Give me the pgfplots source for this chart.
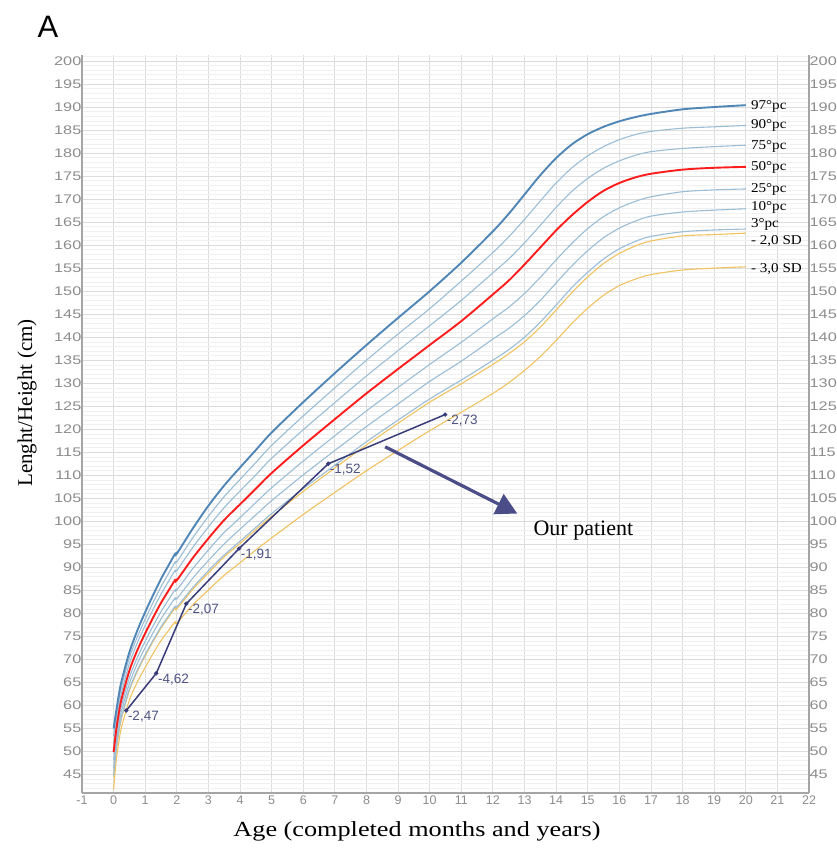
\documentclass[border=0pt]{standalone}
\usepackage{fontspec}
\setmainfont{Liberation Serif}
\newfontfamily\sans{Liberation Sans}
\usepackage{pgfplots}
\pgfplotsset{compat=1.18}
\usepackage{pgfplotstable}
\usetikzlibrary{arrows.meta}

\definecolor{c97}{RGB}{79,134,181}
\definecolor{cpc}{RGB}{155,189,214}
\definecolor{c50}{RGB}{255,28,28}
\definecolor{csd}{RGB}{240,194,96}
\definecolor{cpat}{RGB}{56,60,120}
\definecolor{cpatlab}{RGB}{78,82,132}
\definecolor{carrow}{RGB}{74,77,135}
\definecolor{gridc}{RGB}{220,220,220}
\definecolor{gridm}{RGB}{240,240,240}
\definecolor{axisc}{RGB}{165,165,165}
\definecolor{tickc}{RGB}{140,140,140}

% percentile curves, boys length/height (cm) by age (years)
\pgfplotstableread{
age   p97   p90   p75   p50   p25   p10   p3    m2    m3
0     55.0  53.4  51.7  49.9  48.1  46.4  44.8  44.5  41.8
0.083 58.8  57.5  56.2  54.7  53.2  51.9  50.6  50.3  48.1
0.167 62.4  61.1  59.8  58.4  57.0  55.7  54.5  54.2  52.1
0.25  65.3  64.0  62.8  61.4  60.0  58.8  57.5  57.3  55.3
0.5   71.6  70.4  69.1  67.6  66.1  64.8  63.6  63.3  61.2
0.75  76.3  74.9  73.6  72.0  70.4  69.1  67.7  67.4  65.1
1     80.3  78.8  77.4  75.7  74.0  72.6  71.1  70.8  68.3
1.25  84.0  82.4  80.9  79.1  77.3  75.8  74.2  73.9  71.3
1.5   87.5  85.8  84.2  82.3  80.4  78.8  77.1  76.8  74.1
1.75  90.6  88.8  87.1  85.1  83.1  81.4  79.6  79.3  76.4
1.95  93.0  91.2  89.4  87.3  85.2  83.4  81.6  81.2  78.2
2.0   93.0  91.2  89.3  87.2  85.1  83.2  81.4  81.0  77.9
2.5   98.4  96.4  94.3  92.0  89.7  87.6  85.6  85.2  81.8
3     103.4 101.1 98.8  96.3  93.8  91.5  89.3  88.8  85.1
3.5   107.8 105.4 103.0 100.3 97.6  95.1  92.7  92.3  88.3
4     111.7 109.1 106.6 103.7 100.8 98.3  95.7  95.2  91.0
4.5   115.5 112.8 110.1 107.1 104.1 101.4 98.7  98.2  93.8
5     119.3 116.5 113.7 110.5 107.3 104.5 101.7 101.1 96.4
6     125.9 122.9 119.9 116.5 113.1 110.1 107.1 106.5 101.5
7     132.2 129.0 125.8 122.2 118.6 115.4 112.2 111.6 106.3
8     138.3 135.0 131.6 127.8 124.0 120.6 117.3 116.6 111.0
9     144.2 140.7 137.1 133.1 129.1 125.5 122.0 121.3 115.4
10    150.0 146.2 142.5 138.3 134.1 130.4 126.6 125.9 119.7
11    156.2 152.2 148.0 143.5 138.9 134.8 130.7 129.9 123.7
12    163.0 158.4 154.0 149.3 144.0 139.6 135.0 134.1 127.8
12.5  166.8 161.8 157.0 152.3 146.5 141.9 137.3 136.4 130.1
13    171.0 165.6 160.5 155.8 149.5 144.7 140.0 139.0 132.8
13.5  175.2 169.6 164.3 159.5 153.0 148.0 143.3 142.2 135.8
14    178.9 173.5 168.2 163.2 156.8 151.8 147.0 145.9 139.3
14.5  181.9 176.8 171.7 166.5 160.4 155.5 150.8 149.7 143.0
15    184.1 179.4 174.5 169.4 163.6 158.8 154.1 153.1 146.3
15.5  185.7 181.4 176.7 171.8 166.2 161.6 157.0 156.0 149.1
16    186.9 182.9 178.3 173.5 168.1 163.7 159.2 158.2 151.2
16.5  187.8 184.0 179.5 174.7 169.5 165.2 160.8 159.8 152.6
17    188.5 184.7 180.3 175.5 170.5 166.3 161.9 160.9 153.6
18    189.5 185.4 181.0 176.4 171.6 167.2 162.9 162.0 154.6
19    190.0 185.7 181.4 176.8 172.0 167.6 163.3 162.3 155.0
20    190.4 186.0 181.7 177.0 172.2 167.9 163.5 162.6 155.3
}\growth

\pgfplotsset{
  gc/.style={
    at={(82pt,56pt)}, anchor=south west,
    scale only axis, width=727pt, height=738pt,
    xmin=-1, xmax=22, ymin=41, ymax=201.3,
    ytick={45,50,...,200},
    major tick length=0pt, minor tick length=0pt,
    axis line style={draw=axisc, line width=1.6pt},
    /pgf/number format/assume math mode=true,
    tick label style={font=\sans\fontsize{12.5}{12.5}\selectfont, text=tickc},
  }
}

\begin{document}
\begin{tikzpicture}
\path[use as bounding box] (0,0) rectangle (836pt,849pt);

\begin{axis}[gc,
  xtick={-1,0,...,22},
  minor ytick={42,43,...,201},
  grid=both,
  major grid style={draw=gridc, line width=0.9pt},
  minor grid style={draw=gridm, line width=0.6pt},
  axis x line*=bottom, axis y line*=left,
  xticklabel style={yshift=1pt},
  yticklabel style={xscale=1.3, xshift=3pt},
  every node near coord/.append style={anchor=west, font=\sans\fontsize{13.5}{13.5}\selectfont,
    text=cpatlab, xshift=0pt, yshift=-6pt, inner sep=1pt},
]
\addplot[csd, line width=1.1pt, smooth] table[x=age,y=m3]{\growth};
\addplot[csd, line width=1.1pt, smooth] table[x=age,y=m2]{\growth};
\addplot[cpc, line width=1.1pt, smooth] table[x=age,y=p3]{\growth};
\addplot[cpc, line width=1.1pt, smooth] table[x=age,y=p10]{\growth};
\addplot[cpc, line width=1.1pt, smooth] table[x=age,y=p25]{\growth};
\addplot[cpc, line width=1.1pt, smooth] table[x=age,y=p75]{\growth};
\addplot[cpc, line width=1.1pt, smooth] table[x=age,y=p90]{\growth};
\addplot[c50, line width=1.9pt, smooth] table[x=age,y=p50]{\growth};
\addplot[c97, line width=1.9pt, smooth] table[x=age,y=p97]{\growth};

% patient
\addplot[cpat, line width=1.5pt, mark=*, mark size=1.3pt,
  nodes near coords, point meta=explicit symbolic]
  table[meta=lab]{
age   h     lab
0.40  58.9  -2,47
1.35  67.0  -4,62
2.30  82.1  -2,07
3.97  94.1  -1,91
6.79  112.5 -1,52
10.49 123.2 -2,73
};

\draw[carrow, line width=3.2pt, -{Triangle[length=21pt,width=22pt]}]
  (axis cs:8.59,116.2) -- (axis cs:12.77,101.7);
\node[anchor=west, font=\fontsize{22}{22}\selectfont, inner sep=0pt] at (axis cs:13.28,98.0) {Our patient};

\begin{scope}[every node/.style={anchor=west, inner sep=0pt, xscale=1.12, font=\fontsize{13.5}{13.5}\selectfont}]
\node at (axis cs:20.16,190.2) {97°pc};
\node at (axis cs:20.16,185.9) {90°pc};
\node at (axis cs:20.16,181.5) {75°pc};
\node at (axis cs:20.16,176.8) {50°pc};
\node at (axis cs:20.16,172.0) {25°pc};
\node at (axis cs:20.16,168.1) {10°pc};
\node at (axis cs:20.16,164.6) {3°pc};
\node at (axis cs:20.16,160.9) {- 2,0 SD};
\node at (axis cs:20.16,154.8) {- 3,0 SD};
\end{scope}
\end{axis}

\begin{axis}[gc,
  axis x line=none, axis y line*=right,
  yticklabel style={xscale=1.3, xshift=-3pt},
]
\end{axis}

\node[font=\fontsize{21.5}{21.5}\selectfont, xscale=1.22] at (417pt,18pt) {Age (completed months and years)};
\node[font=\fontsize{21}{21}\selectfont, rotate=90] at (27pt,446pt) {Lenght/Height (cm)};
\node[font=\sans\fontsize{31}{31}\selectfont] at (48pt,822pt) {A};
\end{tikzpicture}
\end{document}
